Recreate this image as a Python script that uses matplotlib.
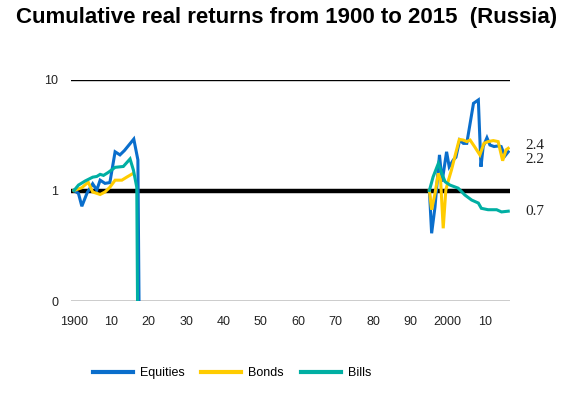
import numpy as np
import matplotlib
matplotlib.use("Agg")
import matplotlib.pyplot as plt

plt.rcParams['font.family'] = ['Liberation Sans', 'DejaVu Sans']

# ---- data ----
eq_years = [1900, 1901.2, 1902.1, 1903.5, 1905.0, 1906.1, 1907.0, 1908.3, 1909.6, 1911.0,
            1912.3, 1913.5, 1916.0, 1917.1, 1917.4,
            np.nan,
            1995.1, 1995.7, 1996.6, 1997.8, 1998.5, 1999.7, 2000.4, 2001.5, 2002.2,
            2003.2, 2004.2, 2005.1, 2006.0, 2006.9, 2008.2, 2008.9, 2009.5, 2010.5,
            2011.3, 2012.4, 2013.5, 2014.3, 2015.3, 2016.2]
eq_vals = [1.0, 0.94, 0.72, 0.95, 1.15, 1.01, 1.24, 1.16, 1.18, 2.24,
           2.10, 2.3, 2.92, 1.89, 0.1,
           np.nan,
           1.0, 0.41, 0.71, 2.10, 1.2, 2.24, 1.64, 1.89, 2.0,
           2.86, 2.67, 2.67, 4.05, 6.15, 6.6, 1.64, 2.5, 3.0,
           2.58, 2.5, 2.53, 2.5, 2.05, 2.24]

bd_years = [1900, 1902.1, 1903.8, 1905.0, 1907.0, 1908.3, 1909.6, 1911.0, 1912.8, 1914.1, 1915.7,
            np.nan,
            1995.1, 1995.7, 1996.6, 1997.5, 1998.1, 1998.8, 1999.5, 2000.2, 2001.0, 2001.9,
            2003.1, 2004.2, 2005.1, 2006.0, 2007.2, 2008.6, 2009.7, 2010.8, 2012.2, 2013.5,
            2014.7, 2015.6, 2016.2]
bd_vals = [1.0, 1.06, 1.19, 0.97, 0.92, 0.97, 1.07, 1.24, 1.24, 1.32, 1.42,
           np.nan,
           1.0, 0.67, 0.94, 1.43, 1.24, 0.455, 1.01, 1.24, 1.53, 2.02,
           2.9, 2.86, 2.77, 2.86, 2.49, 2.10, 2.67, 2.77, 2.83, 2.77,
           1.86, 2.33, 2.41]

bl_years = [1900, 1901.2, 1903.0, 1905.0, 1906.1, 1907.0, 1907.9, 1909.2, 1911.0, 1913.2,
            1915.0, 1915.9, 1916.8, 1917.0,
            np.nan,
            1995.1, 1996.1, 1997.5, 1998.4, 1999.3, 2000.6, 2002.8, 2004.6, 2006.4,
            2008.2, 2009.0, 2010.8, 2013.1, 2014.4, 2016.2]
bl_vals = [1.0, 1.12, 1.22, 1.32, 1.34, 1.4, 1.37, 1.46, 1.62, 1.65,
           1.93, 1.53, 1.07, 0.1,
           np.nan,
           1.0, 1.33, 1.76, 1.43, 1.2, 1.12, 1.05, 0.91, 0.82,
           0.77, 0.69, 0.67, 0.67, 0.64, 0.65]

series_names = ["Equities", "Bonds", "Bills"]
series_colors = ["#0A6ECC", "#FFCC00", "#00AFA3"]
end_labels = ["2.4", "2.2", "0.7"]
end_label_pos = [2.58, 1.89, 0.65]

x_ticks = [1900, 1910, 1920, 1930, 1940, 1950, 1960, 1970, 1980, 1990, 2000, 2010]
x_ticklabels = ["1900", "10", "20", "30", "40", "50", "60", "70", "80", "90", "2000", "10"]
y_ticks = [0.1, 1, 10]
y_ticklabels = ["0", "1", "10"]

# ---- figure ----
W, H = 574, 395
fig = plt.figure(figsize=(W / 100, H / 100), dpi=100)
ax = fig.add_axes([71 / W, 1 - 301 / H, (510 - 71) / W, (301 - 80) / H])

ax.set_yscale('log')
ax.set_ylim(0.1, 10)
ax.set_xlim(1899.2, 2016.67)

# reference lines
ax.axhline(10, color='black', lw=1.0, zorder=1)
ax.axhline(0.1, color='black', lw=1.0, zorder=1)
ax.axhline(1, color='black', lw=3.2, zorder=2)

handles = []
for yrs, vals, name, col in zip([eq_years, bd_years, bl_years],
                                [eq_vals, bd_vals, bl_vals],
                                series_names, series_colors):
    h, = ax.plot(yrs, vals, color=col, lw=2.2, label=name, zorder=3,
                 solid_joinstyle='miter')
    handles.append(h)

for s in ax.spines.values():
    s.set_visible(False)

ax.set_xticks(x_ticks)
ax.set_xticklabels(x_ticklabels)
ax.set_yticks(y_ticks)
ax.set_yticklabels(y_ticklabels)
ax.minorticks_off()
ax.tick_params(axis='both', length=0, labelsize=9, colors='#222222')
ax.tick_params(axis='x', pad=11)
ax.tick_params(axis='y', pad=9)

for lab, yv in zip(end_labels, end_label_pos):
    ax.text(2020.7, yv, lab, ha='left', va='center', fontsize=11,
            family=['Liberation Serif', 'DejaVu Serif'], color='#222222', clip_on=False)

fig.text(0.5, 1 - 18 / H, "Cumulative real returns from 1900 to 2015  (Russia)",
         ha='center', va='center', fontsize=16, fontweight='bold', color='black')

leg = fig.legend(handles=handles, labels=series_names, loc='center',
                 bbox_to_anchor=(232 / W, 1 - 373 / H), ncol=3, frameon=False,
                 fontsize=9, handlelength=3.2, handletextpad=0.55, columnspacing=1.36)
for lh in leg.get_lines():
    lh.set_linewidth(3)

fig.savefig("out.png", dpi=100)
